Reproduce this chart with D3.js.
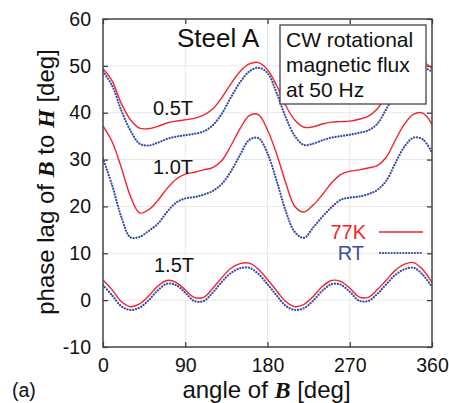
<!DOCTYPE html>
<html>
<head>
<meta charset="utf-8">
<script src="https://cdnjs.cloudflare.com/ajax/libs/d3/7.8.5/d3.min.js"></script>
<style>
  body { margin: 0; background: #fff; }
  text { font-family: "Liberation Sans", Arial, Helvetica, sans-serif; fill: #111; }
  .bi { font-family: "Liberation Serif", "Times New Roman", serif; font-weight: bold; font-style: italic; }
</style>
</head>
<body>
<script>
  // angle of B [deg]
  var angles = [0, 10, 20, 30, 40, 50, 60, 70, 80, 90, 100, 110, 120, 130, 140, 150, 160, 170, 180,
                190, 200, 210, 220, 230, 240, 250, 260, 270, 280, 290, 300, 310, 320, 330, 340, 350, 360];

  // phase lag [deg], 77K (red solid)
  var k77_05 = [49.4, 46.8, 42.0, 38.5, 36.7, 36.6, 37.1, 37.8, 38.2, 38.5, 38.8, 39.5, 40.8, 43.2, 46.2, 48.8, 50.4, 50.7, 49.2,
                45.8, 41.5, 38.4, 36.9, 37.0, 37.6, 38.0, 38.1, 38.2, 38.6, 39.2, 40.8, 43.6, 46.8, 49.2, 50.5, 50.8, 49.4];
  var k77_10 = [37.2, 33.8, 28.3, 22.2, 18.6, 19.3, 21.3, 23.8, 25.8, 26.9, 27.3, 27.8, 28.3, 29.8, 33.0, 36.6, 39.4, 39.6, 36.3,
                31.2, 25.0, 20.0, 18.8, 20.3, 22.5, 25.0, 26.8, 27.5, 27.8, 28.2, 28.7, 30.5, 34.2, 37.6, 39.7, 39.9, 37.5];
  var k77_15 = [4.3, 2.2, -0.3, -1.4, -0.8, 0.9, 3.0, 4.2, 3.8, 2.2, 0.6, 0.6, 2.5, 4.8, 6.8, 7.8, 7.9, 6.6, 4.4,
                2.0, -0.3, -1.4, -0.9, 0.8, 2.9, 4.2, 4.0, 2.6, 0.7, 0.6, 2.2, 4.3, 6.4, 7.7, 8.0, 6.5, 3.8];

  // phase lag [deg], RT (blue dotted)
  var rt_05 = [48.8, 45.8, 40.5, 36.2, 33.4, 33.0, 33.6, 34.4, 34.9, 35.2, 35.5, 36.0, 37.3, 39.8, 43.3, 46.5, 48.8, 49.6, 48.5,
               44.2, 39.0, 35.0, 33.1, 33.4, 34.1, 34.7, 35.0, 35.3, 35.7, 36.2, 37.6, 40.8, 44.3, 47.4, 49.1, 49.6, 48.8];
  var rt_10 = [30.2, 24.5, 17.8, 13.4, 13.5, 14.8, 16.3, 18.8, 20.8, 21.7, 22.0, 22.5, 23.3, 24.8, 27.5, 31.0, 34.2, 34.6, 31.3,
               25.5, 19.0, 14.5, 13.3, 15.5, 17.8, 19.8, 21.4, 21.9, 22.1, 22.6, 23.5, 25.5, 29.3, 32.8, 34.7, 34.3, 31.5];
  var rt_15 = [3.2, 1.0, -1.3, -2.1, -1.6, 0.0, 2.1, 3.5, 3.2, 1.6, -0.2, -0.2, 1.6, 3.9, 5.8, 6.8, 6.9, 5.6, 3.4,
               1.0, -1.2, -2.1, -1.7, -0.1, 2.0, 3.4, 3.3, 1.8, -0.1, -0.2, 1.3, 3.4, 5.4, 6.6, 6.9, 5.4, 2.8];

  var xTicks = [0, 90, 180, 270, 360];
  var yTicks = [-10, 0, 10, 20, 30, 40, 50, 60];
  var fluxLabels = ["0.5T", "1.0T", "1.5T"];
  var infoLines = ["CW rotational", "magnetic flux", "at 50 Hz"];

  var red = "#f0262c", blue = "#3a4aa8";

  var svg = d3.select("body").append("svg")
    .attr("width", 449)
    .attr("height", 403);

  var plotL = 103, plotR = 432, plotT = 19, plotB = 347;

  var x = d3.scaleLinear().domain([0, 360]).range([plotL, plotR]);
  var y = d3.scaleLinear().domain([-10, 60]).range([plotB, plotT]);

  // grid
  svg.append("g").selectAll("line")
    .data(xTicks.slice(1, -1)).enter().append("line")
    .attr("x1", function(d) { return x(d); }).attr("x2", function(d) { return x(d); })
    .attr("y1", plotT).attr("y2", plotB)
    .attr("stroke", "#e8e8e8").attr("stroke-width", 1);
  svg.append("g").selectAll("line")
    .data(yTicks.slice(1, -1)).enter().append("line")
    .attr("x1", plotL).attr("x2", plotR)
    .attr("y1", function(d) { return y(d); }).attr("y2", function(d) { return y(d); })
    .attr("stroke", "#e8e8e8").attr("stroke-width", 1);

  // axes (ticks inward, on all four sides)
  var tk = 5;
  var plain = function(d) { return String(d); };
  svg.append("g").attr("transform", "translate(0," + plotB + ")")
    .call(d3.axisBottom(x).tickValues(xTicks).tickSize(-tk).tickPadding(11).tickFormat(plain))
    .call(function(g) { g.select(".domain").remove(); });
  svg.append("g").attr("transform", "translate(0," + plotT + ")")
    .call(d3.axisTop(x).tickValues(xTicks).tickSize(-tk).tickFormat(""))
    .call(function(g) { g.select(".domain").remove(); });
  svg.append("g").attr("transform", "translate(" + plotL + ",0)")
    .call(d3.axisLeft(y).tickValues(yTicks).tickSize(-tk).tickPadding(12).tickFormat(plain))
    .call(function(g) { g.select(".domain").remove(); });
  svg.append("g").attr("transform", "translate(" + plotR + ",0)")
    .call(d3.axisRight(y).tickValues(yTicks).tickSize(-tk).tickFormat(""))
    .call(function(g) { g.select(".domain").remove(); });

  svg.selectAll(".tick line").attr("stroke", "#333").attr("stroke-width", 1.2);
  svg.selectAll(".tick text")
    .style("font-family", "'Liberation Sans', Arial, sans-serif")
    .style("font-size", "19.5px").attr("fill", "#111");

  // clip for curves
  svg.append("clipPath").attr("id", "clip").append("rect")
    .attr("x", plotL).attr("y", plotT).attr("width", plotR - plotL).attr("height", plotB - plotT);

  var line = d3.line()
    .x(function(d) { return x(d[0]); })
    .y(function(d) { return y(d[1]); })
    .curve(d3.curveCatmullRom.alpha(0.5));

  function pairs(vals) {
    return angles.map(function(a, i) { return [a, vals[i]]; });
  }

  var curves = svg.append("g").attr("clip-path", "url(#clip)");

  [rt_05, rt_10, rt_15].forEach(function(s) {
    curves.append("path").attr("d", line(pairs(s)))
      .attr("fill", "none").attr("stroke", blue).attr("stroke-width", 2.2)
      .attr("stroke-dasharray", "0.1,2.8").attr("stroke-linecap", "round");
  });
  [k77_05, k77_10, k77_15].forEach(function(s) {
    curves.append("path").attr("d", line(pairs(s)))
      .attr("fill", "none").attr("stroke", red).attr("stroke-width", 1.4);
  });

  // frame
  svg.append("rect").attr("x", plotL).attr("y", plotT)
    .attr("width", plotR - plotL).attr("height", plotB - plotT)
    .attr("fill", "none").attr("stroke", "#444").attr("stroke-width", 1.5);

  // title
  svg.append("text").attr("x", 177).attr("y", 47)
    .style("font-size", "26px").text("Steel A");

  // info box
  svg.append("rect").attr("x", 280).attr("y", 25).attr("width", 146).attr("height", 79)
    .attr("fill", "#fff").attr("stroke", "#444").attr("stroke-width", 1.3);
  svg.selectAll("text.info").data(infoLines).enter().append("text")
    .attr("class", "info")
    .attr("x", 286)
    .attr("y", function(d, i) { return 47 + i * 25; })
    .style("font-size", "21px")
    .text(function(d) { return d; });

  // flux density labels
  var labelPos = [[153, 115], [153, 174], [154, 272]];
  svg.selectAll("text.flux").data(fluxLabels).enter().append("text")
    .attr("class", "flux")
    .attr("x", function(d, i) { return labelPos[i][0]; })
    .attr("y", function(d, i) { return labelPos[i][1]; })
    .style("font-size", "20px")
    .text(function(d) { return d; });

  // legend
  svg.append("text").attr("x", 366).attr("y", 239).attr("text-anchor", "end")
    .style("font-size", "20px").style("fill", red).text("77K");
  svg.append("line").attr("x1", 379).attr("x2", 423).attr("y1", 232).attr("y2", 232)
    .attr("stroke", red).attr("stroke-width", 1.4);
  svg.append("text").attr("x", 364).attr("y", 260).attr("text-anchor", "end")
    .style("font-size", "20px").style("fill", blue).text("RT");
  svg.append("line").attr("x1", 380).attr("x2", 423).attr("y1", 253).attr("y2", 253)
    .attr("stroke", blue).attr("stroke-width", 2.2)
    .attr("stroke-dasharray", "0.1,2.8").attr("stroke-linecap", "round");

  // axis labels
  var xl = svg.append("text").attr("x", (plotL + plotR) / 2 - 1).attr("y", 398)
    .attr("text-anchor", "middle").style("font-size", "24px");
  xl.append("tspan").text("angle of ");
  xl.append("tspan").attr("class", "bi").text("B");
  xl.append("tspan").text(" [deg]");

  var yl = svg.append("text")
    .attr("transform", "translate(54," + ((plotT + plotB) / 2 - 1) + ") rotate(-90)")
    .attr("text-anchor", "middle").style("font-size", "24px");
  yl.append("tspan").text("phase lag of ");
  yl.append("tspan").attr("class", "bi").text("B");
  yl.append("tspan").text(" to ");
  yl.append("tspan").attr("class", "bi").text("H");
  yl.append("tspan").text(" [deg]");

  svg.append("text").attr("x", 12).attr("y", 397)
    .style("font-size", "19.5px").text("(a)");
</script>
</body>
</html>
